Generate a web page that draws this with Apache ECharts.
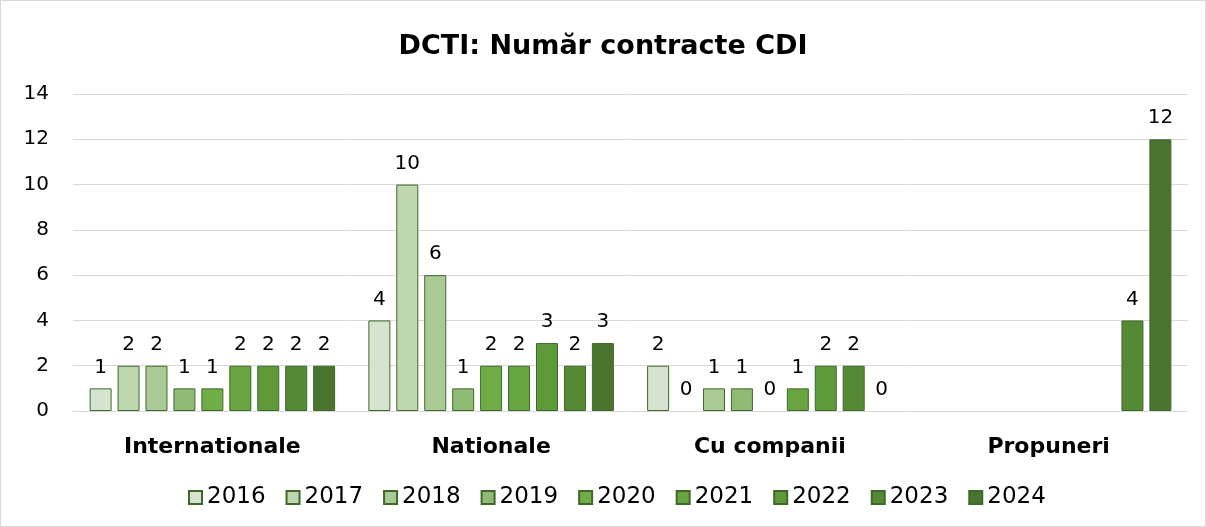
<!DOCTYPE html>
<html>
<head>
<meta charset="utf-8">
<script src="https://cdn.jsdelivr.net/npm/echarts@6/dist/echarts.min.js"></script>
<style>
html,body{margin:0;padding:0;background:#fff;}
#c{width:1206px;height:527px;box-sizing:border-box;border:1px solid #d9d9d9;}
</style>
</head>
<body>
<div id="c"></div>
<script>
const categories = ['Internationale', 'Nationale', 'Cu companii', 'Propuneri'];
const years = ['2016','2017','2018','2019','2020','2021','2022','2023','2024'];
const v2016 = [1, 4, 2, null];
const v2017 = [2, 10, 0, null];
const v2018 = [2, 6, 1, null];
const v2019 = [1, 1, 1, null];
const v2020 = [1, 2, 0, null];
const v2021 = [2, 2, 1, null];
const v2022 = [2, 3, 2, null];
const v2023 = [2, 2, 2, 4];
const v2024 = [2, 3, 0, 12];
const seriesValues = [v2016, v2017, v2018, v2019, v2020, v2021, v2022, v2023, v2024];
const colors = ['#d6e4cf','#bed7b1','#a9ca95','#8fbb75','#71ad47','#68a540','#5f9a3a','#558a34','#4a742e'];
const FONT = 'DejaVu Sans';

const chart = echarts.init(document.getElementById('c'), null, {renderer:'canvas'});
chart.setOption({
  animation: false,
  backgroundColor: '#fff',
  title: {
    text: 'DCTI: Număr contracte CDI',
    left: 'center', top: 27,
    textStyle: {fontFamily: FONT, fontSize: 27, fontWeight: 'bold', color: '#000'}
  },
  legend: {
    bottom: 12, left: 182,
    itemWidth: 13, itemHeight: 13, itemGap: 20,
    icon: 'rect',
    textStyle: {fontFamily: FONT, fontSize: 23, color: '#000'},
    data: years
  },
  grid: {left: 72, right: 17, top: 93, bottom: 115, containLabel: false},
  xAxis: {
    type: 'category', data: categories,
    axisLine: {lineStyle: {color: '#d9d9d9'}},
    axisTick: {show: false},
    axisLabel: {fontFamily: FONT, fontSize: 22, fontWeight: 'bold', color: '#000', margin: 25}
  },
  yAxis: {
    type: 'value', min: 0, max: 14, interval: 2,
    axisLine: {show: false}, axisTick: {show: false},
    splitLine: {lineStyle: {color: '#d9d9d9'}},
    axisLabel: {fontFamily: FONT, fontSize: 20, color: '#000', margin: 24}
  },
  series: years.map((y, i) => ({
    name: y, type: 'bar',
    data: seriesValues[i].map(v => v === 0 ? {value: 0, itemStyle: {borderWidth: 0, color: 'rgba(0,0,0,0)'}} : v),
    barWidth: 22, barGap: '27%', barCategoryGap: '12%',
    itemStyle: {color: colors[i], borderColor: '#41682b', borderWidth: 1},
    label: {show: true, position: 'top', distance: 11, fontFamily: FONT, fontSize: 20, color: '#000'}
  }))
});
</script>
</body>
</html>
